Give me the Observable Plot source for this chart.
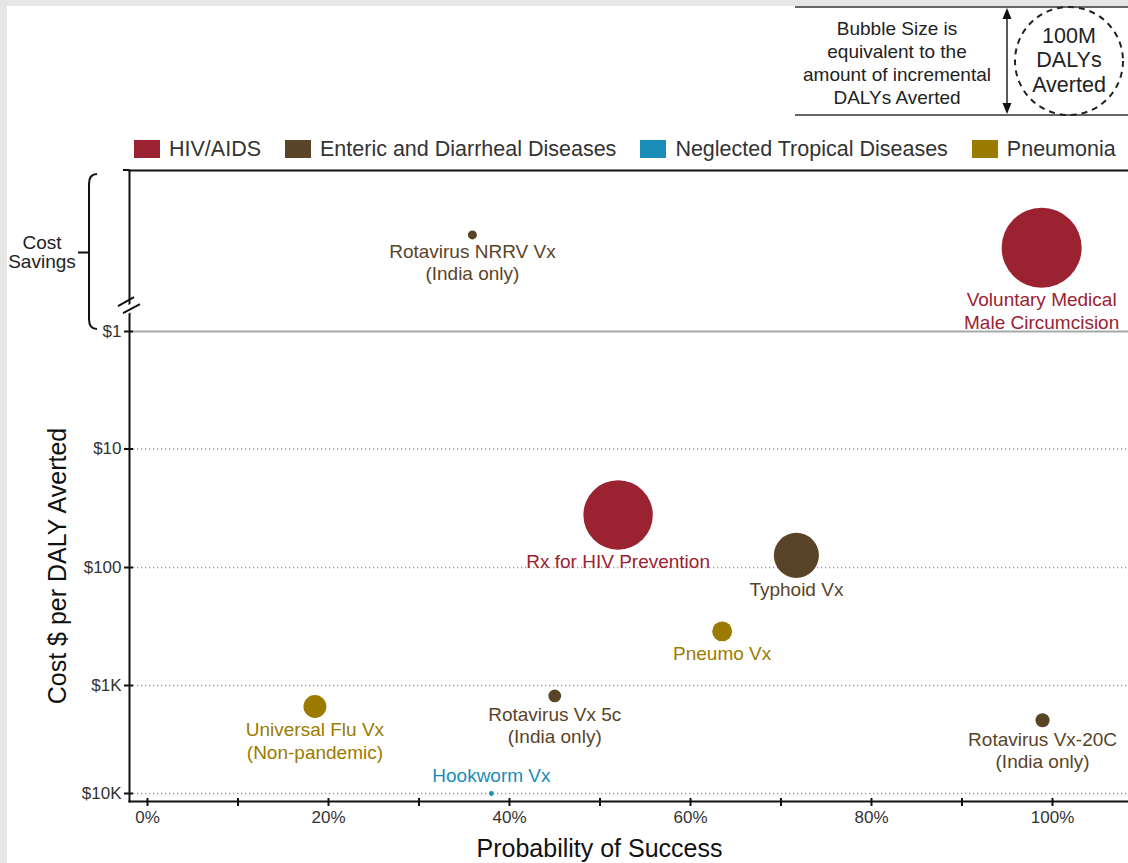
<!DOCTYPE html>
<html><head><meta charset="utf-8">
<script src="https://cdn.jsdelivr.net/npm/d3@7"></script>
<script src="https://cdn.jsdelivr.net/npm/@observablehq/plot@0.6"></script>
<style>
html,body{margin:0;padding:0;background:#e6e6e6;width:1128px;height:863px;overflow:hidden;font-family:"Liberation Sans",Arial,Helvetica,sans-serif;}
#card{position:absolute;left:7px;top:6px;right:0;bottom:0;background:#fff;}
#chart{position:absolute;left:0;top:0;}
#key{position:absolute;left:0;top:0;}
#legend{position:absolute;left:134px;top:136px;display:flex;align-items:center;font-size:21.5px;color:#333;white-space:nowrap;line-height:26px;}
.item{display:flex;align-items:center;margin-right:24px;}
.sw{width:26px;height:18px;margin-right:9px;}
</style></head><body>
<div id="card"></div>
<div id="chart"></div>
<svg id="key"></svg>
<div id="legend"></div>
<script>
// ---------- data ----------
const areaNames = ["HIV/AIDS", "Enteric and Diarrheal Diseases", "Neglected Tropical Diseases", "Pneumonia"];
const areaColors = ["#9b2230", "#5a4428", "#1a8db8", "#9b7b00"];

const names = [
  "Voluntary Medical\nMale Circumcision",
  "Rotavirus NRRV Vx\n(India only)",
  "Rx for HIV Prevention",
  "Typhoid Vx",
  "Pneumo Vx",
  "Universal Flu Vx\n(Non-pandemic)",
  "Rotavirus Vx 5c\n(India only)",
  "Rotavirus Vx-20C\n(India only)",
  "Hookworm Vx"
];
const areas = ["HIV/AIDS", "Enteric and Diarrheal Diseases", "HIV/AIDS", "Enteric and Diarrheal Diseases",
  "Pneumonia", "Pneumonia", "Enteric and Diarrheal Diseases", "Enteric and Diarrheal Diseases",
  "Neglected Tropical Diseases"];
// probability of success (%)
const probSuccess = [98.8, 35.9, 52.0, 71.7, 63.5, 18.5, 45.0, 98.9, 38.0];
// cost $ per DALY averted (null = cost saving)
const costPerDaly = [null, null, 36, 79, 348, 1565, 1250, 2100, 10000];
// relative position inside the "Cost Savings" band (0 = $1 line, 1 = top)
const savingsBand = [0.52, 0.60, null, null, null, null, null, null, null];
// incremental DALYs averted (millions)
const dalysAverted = [54.9, 0.7, 41.3, 17.4, 3.4, 4.5, 1.4, 1.7, 0.2];

const yTickValues = [0, 1, 2, 3, 4];
const yTickLabels = ["$1", "$10", "$100", "$1K", "$10K"];
const xTickMinor = [0, 10, 20, 30, 40, 50, 60, 70, 80, 90, 100];
const xTickMajor = [0, 20, 40, 60, 80, 100];
const keyRefDalys = 100;

// ---------- build ----------
const rows = names.map((name, i) => ({
  name, area: areas[i], prob: probSuccess[i], cost: costPerDaly[i], band: savingsBand[i], dalys: dalysAverted[i]
}));
const yPos = d => d.cost == null ? -d.band : Math.log10(d.cost);

const rSpec = {type: "sqrt", domain: [0, 100], range: [0, 54]};
const rScale = Plot.scale({r: rSpec});
const labelAbove = new Set(["Hookworm Vx"]);
const FONT = '"Liberation Sans", Arial, Helvetica, sans-serif';

const labelMarks = rows.map(d => {
  const r = rScale.apply(d.dalys);
  const above = labelAbove.has(d.name);
  return Plot.text([d], {
    x: "prob", y: yPos, text: "name", fill: "area",
    fontSize: 19, lineHeight: 1.2,
    lineAnchor: above ? "bottom" : "top",
    dy: above ? -(r + 9) : (r + 2)
  });
});

const plot = Plot.plot({
  width: 1128, height: 863,
  marginLeft: 129, marginRight: 0, marginTop: 170, marginBottom: 62,
  style: {background: "transparent", fontFamily: FONT, fontSize: "17px", color: "#333"},
  x: {domain: [0, 100], range: [147, 1052]},
  y: {type: "linear", domain: [-1, 0, 1, 2, 3, 4], range: [170, 331, 448.5, 567, 685, 793]},
  r: rSpec,
  color: {domain: areaNames, range: areaColors},
  marks: [
    Plot.ruleY([1, 2, 3, 4], {stroke: "#9a9a9a", strokeWidth: 1.3, strokeDasharray: "1.3,2.7"}),
    Plot.ruleY([0], {stroke: "#a8a8a8", strokeWidth: 2}),
    Plot.frame({anchor: "left", stroke: "#111", strokeWidth: 2}),
    Plot.frame({anchor: "bottom", stroke: "#111", strokeWidth: 2}),
    Plot.frame({anchor: "top", stroke: "#111", strokeWidth: 2}),
    Plot.axisY({ticks: yTickValues, tickSize: 9, dx: 4, fill: "none", stroke: "#111", strokeWidth: 2, label: null}),
    Plot.axisY({ticks: yTickValues, tickSize: 0, tickPadding: 8, tickFormat: d => yTickLabels[yTickValues.indexOf(d)], fill: "#333", fontSize: 17, label: null}),
    Plot.axisX({ticks: xTickMinor, tickSize: 8, dy: -3, fill: "none", stroke: "#111", strokeWidth: 2, label: null}),
    Plot.axisX({ticks: xTickMajor, tickSize: 0, tickPadding: 9, tickFormat: d => d + "%", fill: "#333", fontSize: 17, label: null}),
    Plot.dot(rows, {x: "prob", y: yPos, r: "dalys", fill: "area", stroke: "none"}),
    ...labelMarks
  ]
});
document.getElementById("chart").appendChild(plot);

// ---------- annotations derived from scales ----------
const ys = plot.scale("y");
const xs = plot.scale("x");
const svg = d3.select(plot);
const axisX0 = 129;
const yTop = ys.apply(-1), yOne = ys.apply(0), yBottom = 863 - 62;

// top line extends slightly left of the axis
svg.append("line").attr("x1", axisX0 - 6).attr("x2", axisX0).attr("y1", yTop).attr("y2", yTop)
  .attr("stroke", "#111").attr("stroke-width", 2);

// axis break
const yb = ys.apply(-0.16);
svg.append("polygon")
  .attr("points", `${axisX0-6},${yb+3} ${axisX0+6},${yb-4} ${axisX0+6},${yb+5} ${axisX0-6},${yb+11}`)
  .attr("fill", "#fff");
svg.append("line").attr("x1", axisX0 - 11).attr("y1", yb + 1).attr("x2", axisX0 + 5).attr("y2", yb - 8)
  .attr("stroke", "#111").attr("stroke-width", 2);
svg.append("line").attr("x1", axisX0 - 6).attr("y1", yb + 8).attr("x2", axisX0 + 11).attr("y2", yb - 1)
  .attr("stroke", "#111").attr("stroke-width", 2);

// cost savings brace
const bx = 89, hook = 8;
const ym = (yTop + yOne) / 2 + 2;
svg.append("path")
  .attr("d", `M${bx+hook},${yTop+4} Q${bx},${yTop+4} ${bx},${yTop+14} L${bx},${yOne-12} Q${bx},${yOne-2} ${bx+hook},${yOne-2} M${bx},${ym} L${bx-11},${ym}`)
  .attr("fill", "none").attr("stroke", "#111").attr("stroke-width", 2);
const cs = svg.append("text").attr("text-anchor", "middle").attr("font-size", 19).attr("fill", "#222")
  .attr("font-family", FONT);
cs.append("tspan").attr("x", 42).attr("y", ym - 4).text("Cost");
cs.append("tspan").attr("x", 42).attr("y", ym + 15).text("Savings");

// axis titles
svg.append("text").attr("transform", `translate(57,${(yOne + yBottom) / 2}) rotate(-90)`)
  .attr("text-anchor", "middle").attr("dy", "0.35em").attr("font-size", 25).attr("fill", "#111")
  .attr("font-family", FONT).text("Cost $ per DALY Averted");
svg.append("text").attr("x", xs.apply(50)).attr("y", 848).attr("dy", "0.35em")
  .attr("text-anchor", "middle").attr("font-size", 25).attr("fill", "#111")
  .attr("font-family", FONT).text("Probability of Success");

// ---------- bubble size key ----------
const key = d3.select("#key").attr("width", 1128).attr("height", 125);
key.append("line").attr("x1", 795).attr("x2", 1128).attr("y1", 7).attr("y2", 7).attr("stroke", "#333").attr("stroke-width", 1.5);
key.append("line").attr("x1", 795).attr("x2", 1128).attr("y1", 115).attr("y2", 115).attr("stroke", "#333").attr("stroke-width", 1.5);
key.append("line").attr("x1", 1007).attr("x2", 1007).attr("y1", 14).attr("y2", 108).attr("stroke", "#222").attr("stroke-width", 1.5);
key.append("polygon").attr("points", "1007,8 1002.5,19 1011.5,19").attr("fill", "#111");
key.append("polygon").attr("points", "1007,114 1002.5,103 1011.5,103").attr("fill", "#111");
const kt = key.append("text").attr("text-anchor", "middle").attr("font-size", 19).attr("fill", "#222").attr("font-family", FONT);
["Bubble Size is", "equivalent to the", "amount of incremental", "DALYs Averted"].forEach((s, i) =>
  kt.append("tspan").attr("x", 897).attr("y", 28 + i * 23).attr("dy", "0.35em").text(s));
key.append("circle").attr("cx", 1069).attr("cy", 61).attr("r", rScale.apply(keyRefDalys))
  .attr("fill", "none").attr("stroke", "#222").attr("stroke-width", 2).attr("stroke-dasharray", "6,5");
const kc = key.append("text").attr("text-anchor", "middle").attr("font-size", 21.5).attr("fill", "#222").attr("font-family", FONT);
["100M", "DALYs", "Averted"].forEach((s, i) =>
  kc.append("tspan").attr("x", 1069).attr("y", 35 + i * 24.5).attr("dy", "0.35em").text(s));

// ---------- legend ----------
const legend = d3.select("#legend");
areaNames.forEach((a, i) => {
  const it = legend.append("div").attr("class", "item");
  it.append("div").attr("class", "sw").style("background", areaColors[i]);
  it.append("span").text(a);
});
</script>
</body></html>
